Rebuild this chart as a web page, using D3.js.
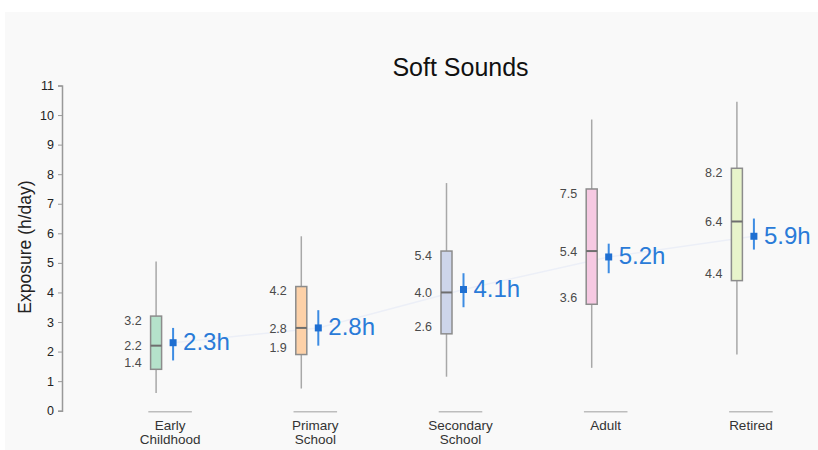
<!DOCTYPE html>
<html>
<head>
<meta charset="utf-8">
<script src="https://cdn.jsdelivr.net/npm/d3@7"></script>
<style>
  html, body { margin: 0; padding: 0; background: #ffffff; }
  svg { display: block; font-family: Arial, "Liberation Sans", Helvetica, sans-serif; }
</style>
</head>
<body>
<svg id="chart" width="818" height="450"></svg>
<script>
// Daily exposure to soft sounds by life stage (hours per day)
const categories = ["Early Childhood", "Primary School", "Secondary School", "Adult", "Retired"];
const categoryLines = [["Early", "Childhood"], ["Primary", "School"], ["Secondary", "School"], ["Adult"], ["Retired"]];
const whiskerLow  = [0.6, 0.75, 1.15, 1.45, 1.9];
const q1          = [1.4, 1.9, 2.6, 3.6, 4.4];
const median      = [2.2, 2.8, 4.0, 5.4, 6.4];
const q3          = [3.2, 4.2, 5.4, 7.5, 8.2];
const whiskerHigh = [5.05, 5.9, 7.7, 9.85, 10.45];
const mean        = [2.3, 2.8, 4.1, 5.2, 5.9];
const meanLow     = [1.7, 2.2, 3.5, 4.65, 5.45];
const meanHigh    = [2.8, 3.4, 4.65, 5.65, 6.5];
const boxFill     = ["#b5e2cb", "#fdd1a8", "#cdd5ea", "#f6c9e2", "#e8f4cb"];
const yTicks      = [0, 1, 2, 3, 4, 5, 6, 7, 8, 9, 10, 11];

const svg = d3.select("#chart");

// panel background
svg.append("rect").attr("x", 5).attr("y", 12).attr("width", 813).attr("height", 438)
  .attr("fill", "#f9f9f9");

const y = d3.scaleLinear().domain([0, 11]).range([410.7, 85.5]);
const x = d3.scaleBand().domain(categories).range([97.5, 823.5]).padding(0);
const cx = c => x(c) + x.bandwidth() / 2;

// title
svg.append("text").attr("x", 460.5).attr("y", 76).attr("text-anchor", "middle")
  .attr("font-size", 25).attr("fill", "#111").text("Soft Sounds");

// y axis
const yAxis = svg.append("g").attr("transform", "translate(62,0)")
  .call(d3.axisLeft(y).tickValues(yTicks).tickSize(4).tickPadding(4).tickFormat(d3.format("d")));
yAxis.select(".domain").attr("stroke", "#999").attr("stroke-width", 1.5);
yAxis.selectAll(".tick line").attr("stroke", "#999");
yAxis.selectAll(".tick text").attr("font-size", 12.5).attr("fill", "#222")
  .attr("font-family", "Arial, 'Liberation Sans', sans-serif");

svg.append("text")
  .attr("transform", "translate(31,247) rotate(-90)")
  .attr("text-anchor", "middle").attr("font-size", 17.5).attr("fill", "#222")
  .text("Exposure (h/day)");

// category baseline marks and labels
const bandMark = x.bandwidth() * 0.3;
categories.forEach((c, i) => {
  svg.append("line")
    .attr("x1", cx(c) - bandMark / 2).attr("x2", cx(c) + bandMark / 2)
    .attr("y1", y(0) + 1).attr("y2", y(0) + 1)
    .attr("stroke", "#bdbdbd").attr("stroke-width", 1.5);
  const t = svg.append("text").attr("x", cx(c)).attr("y", y(0) + 19)
    .attr("text-anchor", "middle").attr("font-size", 13.5).attr("fill", "#333");
  categoryLines[i].forEach((ln, k) => {
    t.append("tspan").attr("x", cx(c)).attr("dy", k === 0 ? 0 : 14.5).text(ln);
  });
});

// faint line joining the means
const meanLine = d3.line().x((d, i) => cx(categories[i]) + 3).y(d => y(d));
svg.append("path").datum(mean).attr("d", meanLine)
  .attr("fill", "none").attr("stroke", "#eceff7").attr("stroke-width", 1.5);

const boxW = 11;
categories.forEach((c, i) => {
  const bx = cx(c) - 14;
  // whisker
  svg.append("line").attr("x1", bx).attr("x2", bx)
    .attr("y1", y(whiskerHigh[i])).attr("y2", y(whiskerLow[i]))
    .attr("stroke", "#a8a8a8").attr("stroke-width", 1.5);
  // box
  svg.append("rect").attr("x", bx - boxW / 2).attr("y", y(q3[i]))
    .attr("width", boxW).attr("height", y(q1[i]) - y(q3[i]))
    .attr("fill", boxFill[i]).attr("stroke", "#8c8c8c").attr("stroke-width", 1.5);
  // median
  svg.append("line").attr("x1", bx - boxW / 2).attr("x2", bx + boxW / 2)
    .attr("y1", y(median[i])).attr("y2", y(median[i]))
    .attr("stroke", "#6e6e6e").attr("stroke-width", 2);

  // quartile / median value labels
  const lx = bx - boxW / 2 - 9;
  const lab = (v, dy) => svg.append("text").attr("x", lx).attr("y", y(v) + dy)
    .attr("text-anchor", "end").attr("dominant-baseline", "middle")
    .attr("font-size", 12.5).attr("fill", "#4a4a4a").text(v.toFixed(1));
  lab(q3[i], 5.5);
  lab(median[i], 1.5);
  lab(q1[i], -6);

  // mean with interval
  const mx = cx(c) + 3;
  svg.append("line").attr("x1", mx).attr("x2", mx)
    .attr("y1", y(meanHigh[i])).attr("y2", y(meanLow[i]))
    .attr("stroke", "#3d8ce3").attr("stroke-width", 2);
  svg.append("rect").attr("x", mx - 3.5).attr("y", y(mean[i]) - 3.5)
    .attr("width", 7).attr("height", 7).attr("fill", "#1f6fd1");
  svg.append("text").attr("x", mx + 10).attr("y", y(mean[i]) + 1)
    .attr("dominant-baseline", "middle").attr("font-size", 24)
    .attr("fill", "#2a7bd8").text(mean[i].toFixed(1) + "h");
});
</script>
</body>
</html>
